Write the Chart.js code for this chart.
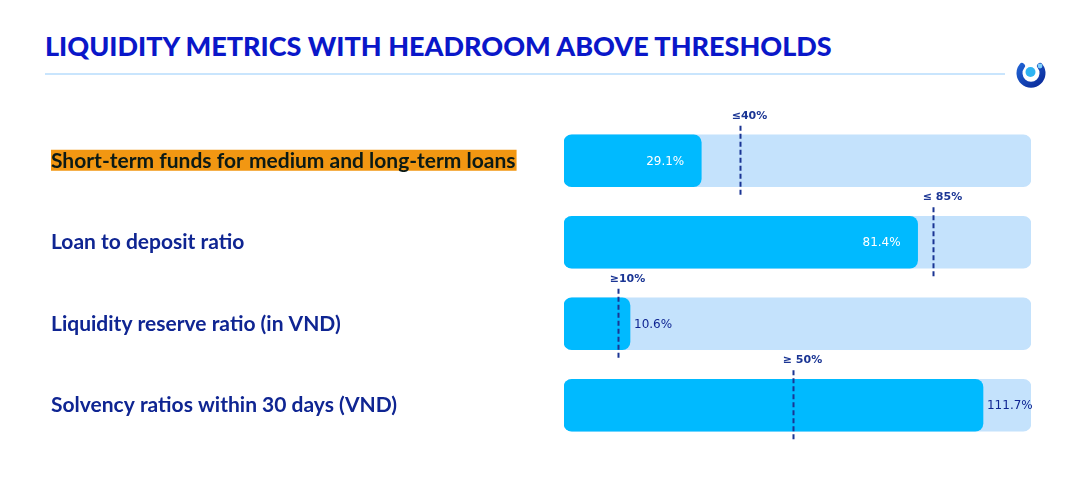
<!DOCTYPE html>
<html>
<head>
<meta charset="utf-8">
<script src="https://cdn.jsdelivr.net/npm/chart.js@4.4.1/dist/chart.umd.min.js"></script>
<style>
  html, body { margin: 0; padding: 0; background: #ffffff; }
  #page { position: relative; width: 1076px; height: 487px; overflow: hidden; }
  #title {
    position: absolute; left: 45px; top: 29px;
    font-family: Lato, sans-serif; font-weight: 900; font-size: 27px;
    color: #0a17c9; white-space: nowrap;
  }
  #rule { position: absolute; left: 45px; top: 73px; width: 960px; height: 2px; background: #c9e5fd; }
  #logo { position: absolute; left: 1014px; top: 58px; }
  #chart { position: absolute; left: 0; top: 0; }
</style>
</head>
<body>
<div id="page">
  <div id="title">LIQUIDITY METRICS WITH HEADROOM ABOVE THRESHOLDS</div>
  <div id="rule"></div>
  <svg id="logo" width="34" height="34" viewBox="0 0 34 34">
    <defs>
      <linearGradient id="lg" x1="0" y1="0" x2="1" y2="1">
        <stop offset="0" stop-color="#1f5fd0"/>
        <stop offset="1" stop-color="#0a2a9a"/>
      </linearGradient>
    </defs>
    <path d="M 8 8 A 11.5 11.5 0 1 0 26 8" fill="none" stroke="url(#lg)" stroke-width="6" stroke-linecap="round"/>
    <circle cx="16.5" cy="14" r="5" fill="#2fb4f2"/>
    <circle cx="26" cy="8" r="2.4" fill="#7fd0fb"/>
  </svg>
  <canvas id="chart" width="1076" height="487"></canvas>
</div>
<script>
const categories = [
    "Short-term funds for medium and long-term loans",
    "Loan to deposit ratio",
    "Liquidity reserve ratio (in VND)",
    "Solvency ratios within 30 days (VND)"
];
const values = [29.1, 81.4, 10.6, 111.7];
const thresholds = [40, 85, 10, 50];
const thresholdLabels = ["\u226440%", "\u2264 85%", "\u226510%", "\u2265 50%"];
// the slide draws every row to its own scale: value that fills the whole track
const trackMax = [99, 107.5, 75, 124.5];
const markerMax = [106, 107.5, 86, 102];

const navy = '#0f2592';
const labelFont = 'bold 21px Lato';

const shares = values.map((v, i) => v / trackMax[i] * 100);
const markerShares = thresholds.map((t, i) => t / markerMax[i] * 100);

const overlay = {
    id: 'overlay',
    beforeDraw(chart) {
	// orange highlight behind the first label
	const ctx = chart.ctx;
	const y = chart.scales.y.getPixelForValue(0);
	ctx.save();
	ctx.font = labelFont;
	const w = ctx.measureText(categories[0]).width;
	ctx.fillStyle = '#f29712';
	ctx.fillRect(51, y - 11, w + 1, 21);
	ctx.restore();
    },
    afterDatasetsDraw(chart) {
	const ctx = chart.ctx;
	const x = chart.scales.x;
	const bars = chart.getDatasetMeta(1).data;
	ctx.save();
	bars.forEach((bar, i) => {
	    const top = bar.y - bar.height / 2;
	    const bottom = bar.y + bar.height / 2;
	    // value label
	    ctx.font = '12px "DejaVu Sans"';
	    ctx.textBaseline = 'middle';
	    const txt = values[i].toFixed(1) + '%';
	    if (values[i] >= 20 && values[i] <= 100) {
		ctx.fillStyle = '#ffffff';
		ctx.textAlign = 'right';
		ctx.fillText(txt, bar.x - 17, bar.y + 1);
	    } else {
		ctx.fillStyle = navy;
		ctx.textAlign = 'left';
		ctx.fillText(txt, bar.x + 4, bar.y + 1);
	    }
	    // threshold marker
	    const mx = Math.round(x.getPixelForValue(markerShares[i])) + 0.5;
	    ctx.strokeStyle = '#1a3594';
	    ctx.lineWidth = 2;
	    ctx.setLineDash([5, 3]);
	    ctx.beginPath();
	    ctx.moveTo(mx, top - 9);
	    ctx.lineTo(mx, bottom + 11);
	    ctx.stroke();
	    ctx.setLineDash([]);
	    ctx.font = 'bold 11px "DejaVu Sans"';
	    ctx.fillStyle = '#1a3594';
	    ctx.textAlign = 'center';
	    ctx.fillText(thresholdLabels[i], mx + 9, top - 19);
	});
	ctx.restore();
    }
};

new Chart(document.getElementById('chart'), {
    type: 'bar',
    data: {
	labels: categories,
	datasets: [
	    {
		data: categories.map(() => 100),
		backgroundColor: '#c4e2fc',
		borderRadius: 8,
		borderSkipped: false,
		barThickness: 52,
		grouped: false,
		order: 2
	    },
	    {
		data: shares,
		backgroundColor: '#00baff',
		borderRadius: 8,
		borderSkipped: false,
		barThickness: 52,
		grouped: false,
		order: 1
	    }
	]
    },
    options: {
	indexAxis: 'y',
	responsive: false,
	animation: false,
	layout: { padding: { left: 51, right: 45, top: 120, bottom: 41 } },
	plugins: {
	    legend: { display: false },
	    tooltip: { enabled: false }
	},
	scales: {
	    x: { display: false, min: 0, max: 100 },
	    y: {
		grid: { display: false },
		border: { display: false },
		afterFit(scale) { scale.width = 513; },
		ticks: {
		    crossAlign: 'far',
		    padding: 0,
		    font: { family: 'Lato', size: 21, weight: 'bold' },
		    color: (c) => c.index === 0 ? '#0b1a16' : navy
		}
	    }
	}
    },
    plugins: [overlay]
});
</script>
</body>
</html>
